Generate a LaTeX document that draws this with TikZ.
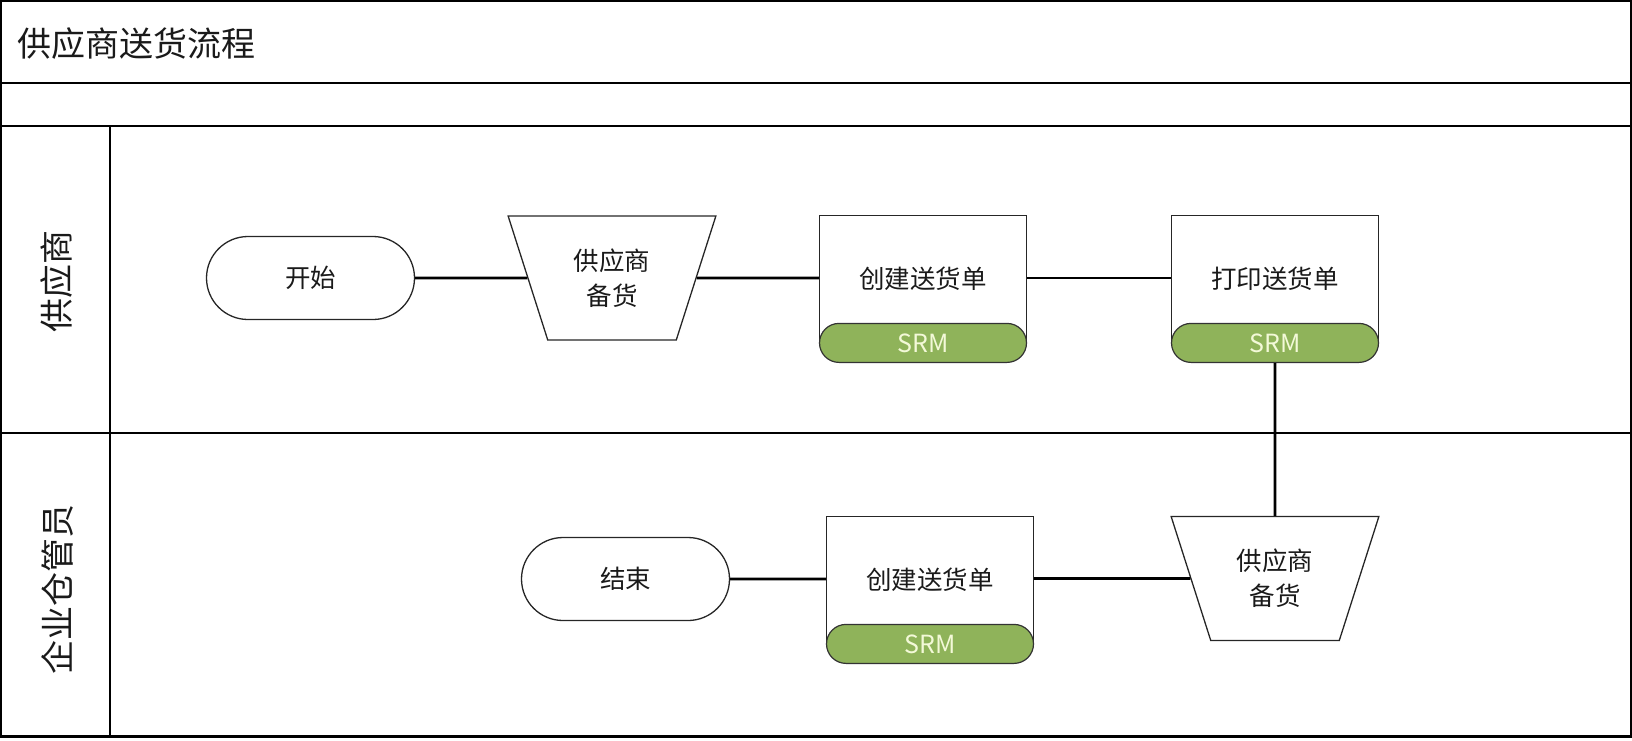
\documentclass[tikz,border=0pt]{standalone}
\usepackage{fontspec}
\setmainfont{Noto Sans CJK SC}
\usetikzlibrary{shapes.geometric,shapes.misc}
\definecolor{srmgreen}{HTML}{8FB35A}
\definecolor{srmtext}{HTML}{F3F9D8}
\definecolor{txt}{HTML}{1A1A1A}
\tikzset{
  frame/.style={line width=2.5pt, draw=black},
  conn/.style={line width=2.7pt, draw=black},
  nodefont/.style={font=\fontsize{25.5}{35}\selectfont, text=txt},
  term/.style={rounded rectangle, draw=black!85, line width=1.3pt, minimum width=208pt, minimum height=83pt, inner sep=0pt, nodefont},
  taskbox/.style={rectangle, draw=black!85, line width=1.3pt, minimum width=207pt, minimum height=126.5pt, inner sep=0pt, nodefont},
  pill/.style={rounded rectangle, draw=black!80, line width=1.2pt, fill=srmgreen, text=srmtext, minimum width=207pt, minimum height=39pt, inner sep=0pt, font=\fontsize{25}{28}\selectfont},
  trap/.style={trapezium, draw=black!85, line width=1.3pt, shape border rotate=180, trapezium stretches=true, trapezium left angle=68.4, trapezium right angle=68.4, minimum width=208pt, minimum height=124pt, inner sep=2pt, align=center, nodefont},
  lanelabel/.style={rotate=90, font=\fontsize{34}{38}\selectfont, text=txt},
}
\begin{document}
\begin{tikzpicture}[x=1pt, y=-1pt]
\useasboundingbox (0,0) rectangle (1632,740);
% frame
\draw[frame] (1.2,1.2) rectangle (1630.8,736.5);
\draw[frame] (1.2,83) -- (1630.8,83);
\draw[frame] (1.2,126) -- (1630.8,126);
\draw[frame] (1.2,433) -- (1630.8,433);
\draw[frame] (110,126) -- (110,736.5);
% titles
\node[anchor=west, font=\fontsize{34}{38}\selectfont, text=txt, inner sep=0pt] (title) at (17,44) {供应商送货流程};
\node[lanelabel] (lane1) at (57,281) {供应商};
\node[lanelabel] (lane2) at (57,589) {企业仓管员};
% lane 1
\node[term] (start) at (310.5,278) {开始};
\node[trap] (t1) at (612,278) {供应商\\备货};
\node[taskbox] (b1) at (923,279) {创建送货单};
\node[pill] (p1) at (b1.south) {SRM};
\node[taskbox] (b2) at (1275,279) {打印送货单};
\node[pill] (p2) at (b2.south) {SRM};
% lane 2
\node[term] (end) at (625.5,579) {结束};
\node[taskbox] (b3) at (930,580) {创建送货单};
\node[pill] (p3) at (b3.south) {SRM};
\node[trap] (t2) at (1275,578.5) {供应商\\备货};
% connectors
\draw[conn] (start) -- (t1);
\draw[conn] (t1) -- (b1.west |- t1);
\draw[conn] (b1.east |- t1) -- (b2.west |- t1);
\draw[conn] (p2) -- (t2);
\draw[conn] (t2) -- (b3.east |- t2);
\draw[conn] (b3.west |- end) -- (end);
\end{tikzpicture}
\end{document}
